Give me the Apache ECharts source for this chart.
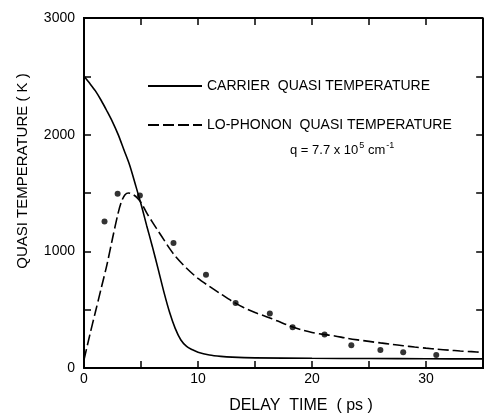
<!DOCTYPE html>
<html>
<head>
<meta charset="utf-8">
<script src="https://cdn.jsdelivr.net/npm/echarts@6/dist/echarts.min.js"></script>
<style>
html,body{margin:0;padding:0;background:#fff;}
#chart{width:491px;height:414px;}
#err{position:absolute;left:90px;top:250px;font:10px monospace;color:#c00;white-space:pre;}
</style>
</head>
<body>
<div id="chart"></div>
<div id="err"></div>
<script>
// Carrier quasi temperature (solid line): delay (ps) and temperature (K)
const carrierT = [0, 0.5, 1, 1.5, 2, 2.5, 3, 3.5, 4, 4.5, 5, 5.5, 6, 6.5, 7, 7.5, 8, 8.5, 9, 9.5, 10, 11, 12, 13, 15, 20, 25, 30, 35];
const carrierK = [2500, 2440, 2375, 2295, 2205, 2110, 2000, 1870, 1740, 1575, 1405, 1220, 1040, 850, 655, 480, 340, 240, 185, 157, 135, 112, 100, 93, 87, 83, 81, 79, 78];
// LO-phonon quasi temperature (dashed line)
const phononT = [0, 0.5, 1, 1.5, 2, 2.5, 3, 3.3, 3.6, 3.9, 4.2, 4.6, 5, 5.5, 6, 6.5, 7, 7.5, 8, 9, 10, 11, 12, 13, 14, 15, 16, 17, 18, 19, 20, 21, 22, 23, 24, 25, 26, 27, 28, 29, 30, 31, 32, 33, 34, 35];
const phononK = [70, 280, 480, 680, 880, 1110, 1330, 1430, 1485, 1500, 1492, 1465, 1420, 1330, 1250, 1175, 1100, 1025, 960, 855, 768, 700, 635, 572, 518, 475, 440, 402, 362, 330, 305, 288, 275, 256, 241, 228, 215, 203, 191, 180, 170, 161, 153, 146, 140, 134];
// Measured points
const dotT = [1.8, 2.95, 4.9, 7.85, 10.7, 13.3, 16.3, 18.3, 21.1, 23.45, 26.0, 28.0, 30.9];
const dotK = [1256, 1493, 1478, 1071, 800, 558, 467, 350, 288, 195, 154, 134, 111];
// Axis tick labels and tick marks
const xTicks = [0, 10, 20, 30];
const yTicks = [0, 1000, 2000, 3000];
const xTickMarks = [5, 10, 15, 20, 25, 30];
const yTickMarks = [500, 1000, 1500, 2000, 2500];
const carrierName = 'CARRIER  QUASI TEMPERATURE';
const phononName = 'LO-PHONON  QUASI TEMPERATURE';

const zip = (a, b) => a.map((v, i) => [v, b[i]]);
const font = 'Liberation Sans, Arial, Helvetica, sans-serif';
const X_MIN = 0, X_MAX = 35, Y_MIN = 0, Y_MAX = 3000;
// inward tick length expressed in axis units (about 7 px)
const TICK_X = 0.6, TICK_Y = 60;

const errBox = document.getElementById('err');
try {
const chart = echarts.init(document.getElementById('chart'), null, {renderer: 'canvas'});

// top / right frame ticks, placed through the axes' scales
const frameTicks = [];
xTickMarks.forEach(v => frameTicks.push([{coord: [v, Y_MAX]}, {coord: [v, Y_MAX - TICK_Y]}]));
yTickMarks.forEach(v => frameTicks.push([{coord: [X_MAX, v]}, {coord: [X_MAX - TICK_X, v]}]));

chart.setOption({
  backgroundColor: '#fff',
  animation: false,
  grid: {left: 84, right: 8, top: 18, bottom: 46},
  xAxis: {
    type: 'value', min: X_MIN, max: X_MAX, interval: 5,
    axisLine: {show: true, onZero: false, lineStyle: {color: '#000', width: 2}},
    axisTick: {show: true, inside: true, length: 7, lineStyle: {color: '#000', width: 1.5}},
    splitLine: {show: false},
    axisLabel: {show: true, color: '#000', fontSize: 14, fontFamily: font, margin: 4,
      showMaxLabel: false,
      formatter: v => xTicks.includes(v) ? String(v) : ''}
  },
  yAxis: {
    type: 'value', min: Y_MIN, max: Y_MAX, interval: 500,
    axisLine: {show: true, onZero: false, lineStyle: {color: '#000', width: 2}},
    axisTick: {show: true, inside: true, length: 7, lineStyle: {color: '#000', width: 1.5}},
    splitLine: {show: false},
    axisLabel: {show: true, color: '#000', fontSize: 14, fontFamily: font, margin: 9,
      formatter: v => yTicks.includes(v) ? String(v) : ''}
  },
  legend: {
    show: true, orient: 'vertical', left: 142, top: 74,
    itemWidth: 54, itemHeight: 14, itemGap: 25,
    selectedMode: false,
    data: [carrierName, phononName],
    itemStyle: {opacity: 0},
    textStyle: {color: '#000', fontSize: 14, fontFamily: font}
  },
  graphic: [
    {type: 'text', left: 290, top: 141, style: {
      text: '{a|q = 7.7 x 10}{s|5}{a| cm}{s|-1}',
      rich: {
        a: {fontSize: 13, fontFamily: font, fill: '#000', lineHeight: 16, verticalAlign: 'bottom'},
        s: {fontSize: 9, fontFamily: font, fill: '#000', lineHeight: 16, verticalAlign: 'top', padding: [0, 0, 0, 1]}
      }
    }},
    {type: 'text', x: 23, y: 171, rotation: Math.PI / 2, style: {
      text: 'QUASI TEMPERATURE ( K )', fontSize: 15, fontFamily: font, fill: '#000',
      align: 'center', verticalAlign: 'middle'
    }},
    {type: 'text', x: 301, y: 406, style: {
      text: 'DELAY  TIME  ( ps )', fontSize: 16, fontFamily: font, fill: '#000',
      align: 'center', verticalAlign: 'middle'
    }}
  ],
  series: [
    {
      name: carrierName, type: 'line', data: zip(carrierT, carrierK),
      smooth: 0.3, symbol: 'none', showSymbol: false,
      lineStyle: {color: '#000', width: 1.6, type: 'solid'},
      itemStyle: {color: '#000'}, z: 3
    },
    {
      name: phononName, type: 'line', data: zip(phononT, phononK),
      smooth: 0.3, symbol: 'none', showSymbol: false,
      lineStyle: {color: '#000', width: 1.6, type: [11, 4]},
      itemStyle: {color: '#000'}, z: 3
    },
    {
      name: 'data', type: 'scatter', data: zip(dotT, dotK),
      symbol: 'circle', symbolSize: 6,
      itemStyle: {color: '#000'}, z: 4
    },
    {
      name: 'frame', type: 'line', silent: true, clip: false,
      data: [[X_MIN, Y_MAX], [X_MAX, Y_MAX], [X_MAX, Y_MIN]],
      symbol: 'none', showSymbol: false, smooth: false,
      lineStyle: {color: '#000', width: 2, type: 'solid', cap: 'square'},
      z: 5,
      markLine: {
        silent: true, symbol: ['none', 'none'], animation: false,
        label: {show: false},
        lineStyle: {color: '#000', width: 1.5, type: 'solid'},
        emphasis: {disabled: true},
        data: frameTicks
      }
    }
  ]
});
} catch (e) {
  errBox.textContent = 'ERR ' + e.message;
}
</script>
</body>
</html>
